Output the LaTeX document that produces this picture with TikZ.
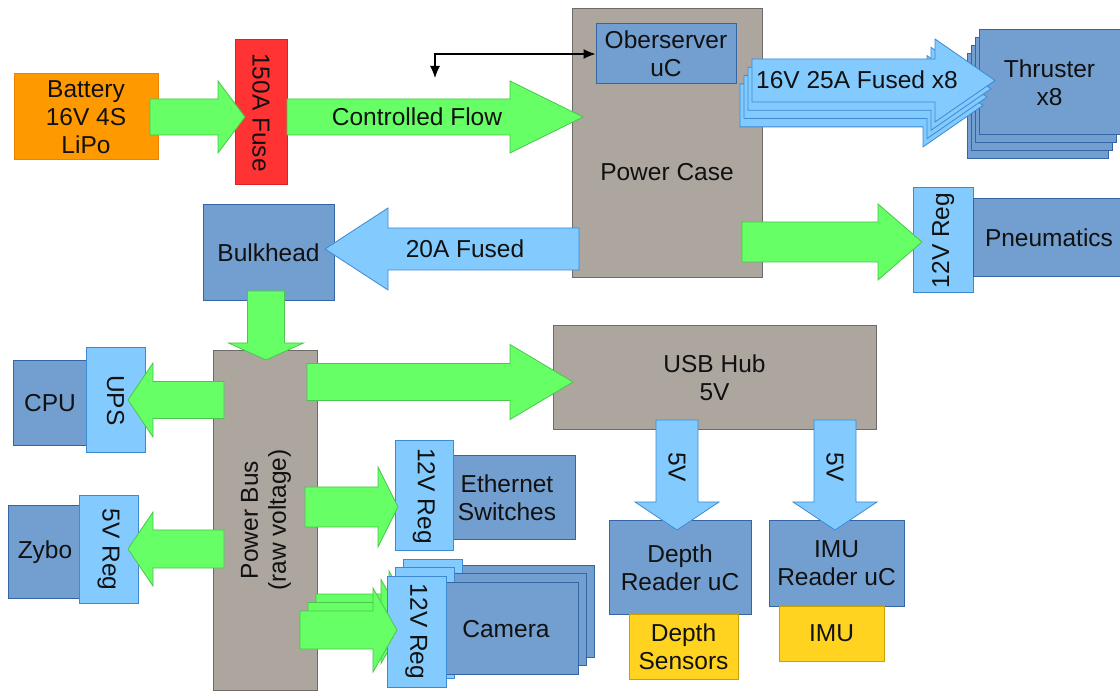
\documentclass[tikz,border=0pt]{standalone}
\usepackage{fontspec}
\setmainfont{Liberation Sans}
\usetikzlibrary{arrows.meta}
\definecolor{gfill}{HTML}{66FF66}
\definecolor{gline}{HTML}{4CC54C}
\definecolor{lbfill}{HTML}{83CAFF}
\definecolor{lbline}{HTML}{3C8AD2}
\definecolor{bfill}{HTML}{729FCF}
\definecolor{bline}{HTML}{3465A4}
\definecolor{grfill}{HTML}{ADA69F}
\definecolor{grline}{HTML}{6E6A66}
\definecolor{ofill}{HTML}{FF9900}
\definecolor{oline}{HTML}{F08000}
\definecolor{rfill}{HTML}{FF3333}
\definecolor{rline}{HTML}{E02020}
\definecolor{yfill}{HTML}{FFD320}
\definecolor{yline}{HTML}{C8A000}
\definecolor{ink}{HTML}{111111}
% block arrows: style, tail, head base, tip, centre, shaft half width, head half width
\newcommand\harrow[7]{\draw[#1] (#2,{#5-#6}) -- (#3,{#5-#6}) -- (#3,{#5-#7}) -- (#4,#5) -- (#3,{#5+#7}) -- (#3,{#5+#6}) -- (#2,{#5+#6}) -- cycle;}
\newcommand\varrow[7]{\draw[#1] ({#5-#6},#2) -- ({#5-#6},#3) -- ({#5-#7},#3) -- (#5,#4) -- ({#5+#7},#3) -- ({#5+#6},#3) -- ({#5+#6},#2) -- cycle;}
\begin{document}
\begin{tikzpicture}[x=1pt,y=-1pt,font=\fontsize{24.5}{28}\selectfont,
  box/.style={draw, line width=1pt, inner sep=0pt, align=center, text=ink},
  bluebox/.style={box, fill=bfill, draw=bline},
  lbbox/.style={box, fill=lbfill, draw=lbline},
  graybox/.style={box, fill=grfill, draw=grline},
  ybox/.style={box, fill=yfill, draw=yline},
  garrow/.style={fill=gfill, draw=gline, line width=0.8pt},
  barrow/.style={fill=lbfill, draw=lbline, line width=0.8pt},
  lbl/.style={text=ink, inner sep=0pt, align=center},
  thin arrow/.style={draw=black, line width=1.1pt, {Latex[length=12pt,width=10pt]}-{Latex[length=12pt,width=10pt]}}]
\useasboundingbox[fill=white] (0,0) rectangle (1120,692);

% ---------- boxes ----------
\node[box, fill=ofill, draw=oline, minimum width=144pt, minimum height=86pt] (bat) at (86,117) {Battery\\16V 4S\\LiPo};
\node[box, fill=rfill, draw=rline, minimum width=52pt, minimum height=145pt] (fuse) at (261,112.5) {};
\node[lbl, rotate=-90] (fuset) at (fuse) {150A Fuse};
\node[graybox, minimum width=190pt, minimum height=269pt] (pcase) at (667,143.5) {};
\node[lbl] (pcaset) at (667,172) {Power Case};
\node[bluebox, minimum width=140pt, minimum height=60pt] (obs) at (666,54) {Oberserver\\uC};

\foreach \k/\nm in {3/thrc,2/thrb,1/thra}{
  \node[bluebox, minimum width=141pt, minimum height=105pt] (\nm) at ({1049.5-4*\k},{82.5+7.7*\k}) {};}
\node[bluebox, minimum width=141pt, minimum height=105pt] (thr) at (1049.5,82.5) {Thruster\\x8};

\node[lbbox, minimum width=60pt, minimum height=105pt] (preg) at (943,240.5) {};
\node[lbl, rotate=90] (pregt) at (preg) {12V Reg};
\node[bluebox, minimum width=152pt, minimum height=78pt] (pneu) at (1049,238) {Pneumatics};

\node[bluebox, minimum width=131pt, minimum height=96pt] (bulk) at (268.5,253) {Bulkhead};
\node[graybox, minimum width=104pt, minimum height=339pt] (pbus) at (265,520.5) {};
\node[lbl, rotate=90] (pbust) at (266,520) {Power Bus\\(raw voltage)};
\node[graybox, minimum width=323pt, minimum height=104pt] (usb) at (714.5,378) {USB Hub\\5V};

\node[bluebox, minimum width=77pt, minimum height=85pt] (cpu) at (51.5,403.5) {};
\node[lbl] (cput) at (50,403) {CPU};
\node[lbbox, minimum width=59pt, minimum height=105pt] (ups) at (115.5,400.5) {};
\node[lbl, rotate=-90] (upst) at (ups) {UPS};
\node[bluebox, minimum width=74pt, minimum height=92pt] (zybo) at (45,552) {Zybo};
\node[lbbox, minimum width=59pt, minimum height=107pt] (zreg) at (108.5,549.5) {};
\node[lbl, rotate=-90] (zregt) at (zreg) {5V Reg};

\node[bluebox, minimum width=123pt, minimum height=84pt] (eth) at (513.5,498) {};
\node[lbl] (etht) at (507,498) {Ethernet\\Switches};
\node[lbbox, minimum width=58pt, minimum height=110pt] (ereg) at (424,496) {};
\node[lbl, rotate=-90] (eregt) at (ereg) {12V Reg};

\node[bluebox, minimum width=142pt, minimum height=93pt] (depth) at (680,567.5) {Depth\\Reader uC};
\node[ybox, minimum width=109pt, minimum height=65pt] (dsens) at (683.5,646.5) {Depth\\Sensors};
\node[bluebox, minimum width=135pt, minimum height=85pt] (imurd) at (836.5,563.5) {IMU\\Reader uC};
\node[ybox, minimum width=105pt, minimum height=55pt] (imu) at (831.5,633.5) {IMU};

% ---------- camera stack ----------
\foreach \k/\nm in {2/c,1/b}{
  \begin{scope}[shift={(8*\k,-8.5*\k)}]
    \node[bluebox, minimum width=132pt, minimum height=92pt] (cam\nm) at (512,628) {};
    \node[lbbox, minimum width=59pt, minimum height=111pt] (creg\nm) at (416.5,631.5) {};
    \harrow{garrow}{300}{373}{397}{630}{19}{42}
  \end{scope}}
\node[bluebox, minimum width=132pt, minimum height=92pt] (cam) at (512,628) {};
\node[lbl] (camt) at (506,629) {Camera};
\node[lbbox, minimum width=59pt, minimum height=111pt] (creg) at (416.5,631.5) {};
\node[lbl, rotate=-90] (cregt) at (creg) {12V Reg};
\harrow{garrow}{300}{373}{397}{630}{19}{42}

% ---------- block arrows ----------
\harrow{garrow}{150}{218}{245}{117}{18}{36}
\harrow{garrow}{287}{510}{583}{117}{18}{36}
\node[lbl] (cflow) at (417,117) {Controlled Flow};

\foreach \k in {3,2,1}{
  \begin{scope}[shift={(-4*\k,8.3*\k)}]
    \harrow{barrow}{752}{935}{995}{80.5}{21.5}{41.5}
  \end{scope}}
\harrow{barrow}{752}{935}{995}{80.5}{21.5}{41.5}
\node[lbl] (thrlbl) at (857,80) {16V 25A Fused x8};

\harrow{garrow}{742}{878}{922}{242}{20}{38}
\harrow{barrow}{579}{388}{325}{249}{21}{41}
\node[lbl] (fused20) at (465,249) {20A Fused};

\varrow{garrow}{291}{343}{360}{266}{18.5}{37.5}
\harrow{garrow}{307}{510}{573}{382}{18.5}{37.5}

\varrow{barrow}{420}{502}{530}{677}{21}{42}
\node[lbl, rotate=-90] (v5a) at (677,467) {5V};
\varrow{barrow}{420}{502}{530}{835}{21}{42}
\node[lbl, rotate=-90] (v5b) at (835,467) {5V};

\harrow{garrow}{224}{153}{128}{400}{18.5}{37}
\harrow{garrow}{224}{153}{128}{549}{19}{37}
\harrow{garrow}{305}{378}{398}{507}{20}{40}

% ---------- observer connector ----------
\coordinate (ctl) at (435,78);
\draw[thin arrow] (obs.west) -| (ctl);
\end{tikzpicture}
\end{document}
